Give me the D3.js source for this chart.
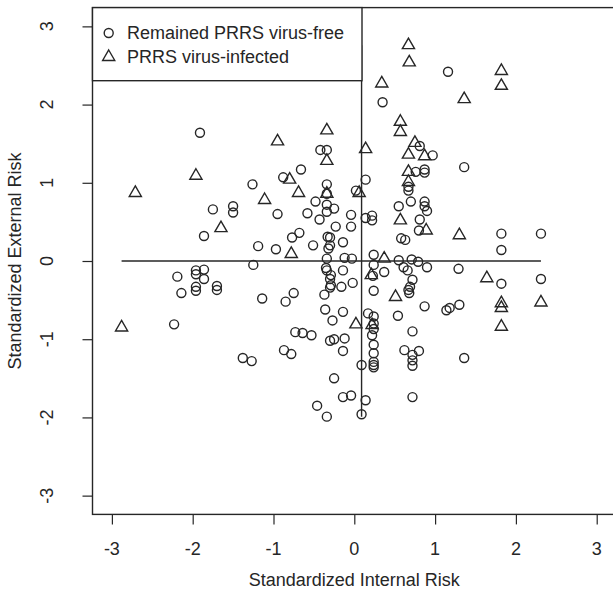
<!DOCTYPE html>
<html>
<head>
<meta charset="utf-8">
<script src="https://cdn.jsdelivr.net/npm/d3@7"></script>
<style>
  body { margin: 0; background: #fff; }
  text { font-family: "Liberation Sans", Arial, sans-serif; fill: #262626; }
</style>
</head>
<body>
<div id="chart"></div>
<script>
"use strict";
//farms that remained PRRS virus-free
var freeX = [1.16, 0.35, -1.91, -0.42, -0.34, -0.66, -0.88, -0.34, 0.14, 0.81,
  0.97, 0.76, 0.87, 0.87, 1.36, -1.26, -1.75, -1.50, -1.50, -1.86,
  -1.19, -1.25, -2.19, -1.96, -1.96, -1.86, -1.86, -1.96, -1.96, -2.14,
  -1.70, -1.70, -0.34, 0.02, -0.48, -0.34, -0.34, -0.25, -0.95, -0.58,
  -0.43, -0.04, 0.14, 0.22, 0.22, 0.55, -0.23, -0.04, -0.68, -0.77,
  -0.33, -0.30, -0.30, -0.32, -0.14, -0.51, -0.97, 0.58, 0.63, 0.24,
  0.55, -0.34, -0.12, -0.03, 0.61, 0.24, -0.35, -0.34, -0.14, 0.37,
  0.23, -0.29, -0.30, -0.29, -0.30, -0.02, -0.16, 0.24, -0.75, -1.14,
  -0.85, -0.37, 0.67, 0.67, 0.70, 0.87, 0.87, 0.90, 0.81, 0.80,
  1.82, 2.31, 1.82, 0.71, 0.79, 0.90, 0.66, 1.29, 1.82, 2.31,
  0.72, 0.69, 0.67, 0.68, 0.87, 1.14, 1.18, 1.30, 0.54, 0.72,
  0.62, 0.80, 0.72, 0.72, 0.72, 1.36, 0.72, -0.36, -0.14, -0.27,
  0.17, 0.24, 0.24, 0.24, 0.22, -0.73, -0.64, -0.53, -0.30, -0.25,
  -0.12, 0.24, 0.24, -0.87, -0.78, -0.14, 0.09, 0.24, 0.24, 0.24,
  -0.25, -0.14, -0.04, 0.14, -0.46, -0.34, 0.09, -2.23, -1.38, -1.27];
var freeY = [2.42, 2.03, 1.64, 1.42, 1.42, 1.17, 1.07, 0.98, 1.04, 1.47,
  1.35, 1.14, 1.17, 1.13, 1.20, 0.98, 0.66, 0.70, 0.62, 0.32,
  0.19, -0.05, -0.20, -0.12, -0.17, -0.11, -0.23, -0.33, -0.38, -0.41,
  -0.32, -0.37, 0.86, 0.90, 0.76, 0.72, 0.63, 0.67, 0.60, 0.61,
  0.53, 0.59, 0.55, 0.58, 0.52, 0.70, 0.44, 0.44, 0.36, 0.30,
  0.31, 0.30, 0.20, 0.16, 0.24, 0.20, 0.15, 0.29, 0.27, 0.08,
  0.01, 0.03, 0.04, 0.03, -0.08, -0.05, -0.09, -0.12, -0.12, -0.14,
  -0.19, -0.18, -0.23, -0.31, -0.34, -0.28, -0.33, -0.38, -0.41, -0.48,
  -0.52, -0.43, 0.95, 0.90, 0.76, 0.76, 0.70, 0.64, 0.53, 0.39,
  0.35, 0.35, 0.14, 0.02, -0.01, -0.08, -0.12, -0.10, -0.29, -0.23,
  -0.24, -0.33, -0.37, -0.41, -0.58, -0.63, -0.60, -0.56, -0.70, -0.90,
  -1.14, -1.15, -1.20, -1.27, -1.34, -1.24, -1.74, -0.62, -0.65, -0.76,
  -0.67, -0.71, -0.80, -0.87, -0.95, -0.91, -0.92, -0.95, -1.02, -1.00,
  -0.99, -1.07, -1.18, -1.14, -1.19, -1.15, -1.33, -1.29, -1.33, -1.36,
  -1.50, -1.74, -1.72, -1.78, -1.85, -1.99, -1.96, -0.81, -1.24, -1.28];

//farms that became PRRS virus-infected
var infectedX = [0.67, 0.68, 1.82, 1.82, 1.36, 0.34, 0.57, 0.57, -0.34, -0.95,
  0.14, -0.34, -0.80, 0.75, 0.67, 0.87, 0.67, 0.67, -1.96, -2.71,
  -1.65, -1.11, -0.69, -0.34, 0.06, 0.57, 0.89, 1.30, -0.78, 0.37,
  0.21, 0.51, 1.64, 1.82, 1.82, 2.31, 1.82, -2.88, 0.02, 0.22];
var infectedY = [2.76, 2.54, 2.43, 2.24, 2.07, 2.27, 1.78, 1.65, 1.67, 1.53,
  1.43, 1.28, 1.04, 1.51, 1.36, 1.34, 1.14, 1.01, 1.09, 0.87,
  0.42, 0.78, 0.87, 0.86, 0.87, 0.52, 0.39, 0.33, 0.09, 0.03,
  -0.18, -0.46, -0.22, -0.54, -0.60, -0.53, -0.84, -0.85, -0.81, -0.82];

//reference lines through the centre of the cloud
var meanX = 0.09,
  meanY = 0.0;

var tickValues = [-3, -2, -1, 0, 1, 2, 3];
var legendLabels = ["Remained PRRS virus-free", "PRRS virus-infected"];
var xTitle = "Standardized Internal Risk",
  yTitle = "Standardized External Risk";

var w = 613,
  h = 593,
  ink = "#262626",
  rad = 4.5;

var svg = d3
  .select("#chart")
  .append("svg")
  .attr("width", w)
  .attr("height", h);

//R style usr range: data range plus 4% on each side
var x = d3.scaleLinear().domain([-3.24, 3.24]).range([92.5, 616.1]);
var y = d3.scaleLinear().domain([-3.24, 3.24]).range([514.4, 7.6]);

var free = freeX.map(function(v, i) {
  return { x: v, y: freeY[i] };
});
var infected = infectedX.map(function(v, i) {
  return { x: v, y: infectedY[i] };
});
var all = free.concat(infected);

//tick marks only, labels are placed by hand below
var xAxis = svg
  .append("g")
  .attr("transform", "translate(0," + y.range()[0] + ")")
  .call(d3.axisBottom(x).tickValues(tickValues).tickSize(10).tickFormat(""));
var yAxis = svg
  .append("g")
  .attr("transform", "translate(" + x.range()[0] + ",0)")
  .call(d3.axisLeft(y).tickValues(tickValues).tickSize(10).tickFormat(""));
[xAxis, yAxis].forEach(function(g) {
  g.select(".domain").remove();
  g.selectAll("line").attr("stroke", ink).attr("stroke-width", 1.2);
});

svg
  .append("g")
  .selectAll("text")
  .data(tickValues)
  .enter()
  .append("text")
  .attr("x", function(d) {
    return x(d);
  })
  .attr("y", 549)
  .attr("text-anchor", "middle")
  .attr("dominant-baseline", "central")
  .style("font-size", "18px")
  .text(String);

svg
  .append("g")
  .selectAll("text")
  .data(tickValues)
  .enter()
  .append("text")
  .attr("transform", function(d) {
    return "translate(47," + y(d) + ") rotate(-90)";
  })
  .attr("text-anchor", "middle")
  .attr("dominant-baseline", "central")
  .style("font-size", "18px")
  .text(String);

svg
  .append("text")
  .attr("x", (x.range()[0] + x.range()[1]) / 2)
  .attr("y", 580)
  .attr("text-anchor", "middle")
  .attr("dominant-baseline", "central")
  .style("font-size", "18px")
  .text(xTitle);

svg
  .append("text")
  .attr("transform", "translate(15," + (y.range()[0] + y.range()[1]) / 2 + ") rotate(-90)")
  .attr("text-anchor", "middle")
  .attr("dominant-baseline", "central")
  .style("font-size", "18px")
  .text(yTitle);

//mean lines spanning the data range
svg
  .append("line")
  .attr("x1", x(d3.min(all, function(d) { return d.x; })))
  .attr("x2", x(d3.max(all, function(d) { return d.x; })))
  .attr("y1", y(meanY))
  .attr("y2", y(meanY))
  .attr("stroke", ink)
  .attr("stroke-width", 1.4);
svg
  .append("line")
  .attr("x1", x(meanX))
  .attr("x2", x(meanX))
  .attr("y1", y(d3.min(all, function(d) { return d.y; })))
  .attr("y2", y(d3.max(all, function(d) { return d.y; })))
  .attr("stroke", ink)
  .attr("stroke-width", 1.4);

svg
  .append("g")
  .selectAll("circle")
  .data(free)
  .enter()
  .append("circle")
  .attr("cx", function(d) {
    return x(d.x);
  })
  .attr("cy", function(d) {
    return y(d.y);
  })
  .attr("r", rad)
  .attr("fill", "none")
  .attr("stroke", ink)
  .attr("stroke-width", 1.4);

var tri = d3.symbol(d3.symbolTriangle, 64);
svg
  .append("g")
  .selectAll("path")
  .data(infected)
  .enter()
  .append("path")
  .attr("d", tri)
  .attr("transform", function(d) {
    return "translate(" + x(d.x) + "," + y(d.y) + ")";
  })
  .attr("fill", "none")
  .attr("stroke", ink)
  .attr("stroke-width", 1.4);

//plot box, right side falls outside the picture
svg
  .append("rect")
  .attr("x", x.range()[0])
  .attr("y", y.range()[1])
  .attr("width", x.range()[1] - x.range()[0])
  .attr("height", y.range()[0] - y.range()[1])
  .attr("fill", "none")
  .attr("stroke", ink)
  .attr("stroke-width", 1.4);

//legend in the top left corner
var legend = svg.append("g");
legend
  .append("rect")
  .attr("x", x.range()[0])
  .attr("y", y.range()[1])
  .attr("width", 362 - x.range()[0])
  .attr("height", 80.7 - y.range()[1])
  .attr("fill", "#fff")
  .attr("stroke", ink)
  .attr("stroke-width", 1.4);

var rows = legend
  .selectAll(".item")
  .data(legendLabels)
  .enter()
  .append("g")
  .attr("class", "item")
  .attr("transform", function(d, i) {
    return "translate(108.7," + (33 + i * 24) + ")";
  });
rows
  .filter(function(d, i) {
    return i === 0;
  })
  .append("circle")
  .attr("r", rad)
  .attr("fill", "none")
  .attr("stroke", ink)
  .attr("stroke-width", 1.4);
rows
  .filter(function(d, i) {
    return i === 1;
  })
  .append("path")
  .attr("d", tri)
  .attr("fill", "none")
  .attr("stroke", ink)
  .attr("stroke-width", 1.4);
rows
  .append("text")
  .attr("x", 18.3)
  .attr("dominant-baseline", "central")
  .style("font-size", "18px")
  .text(String);
</script>
</body>
</html>
